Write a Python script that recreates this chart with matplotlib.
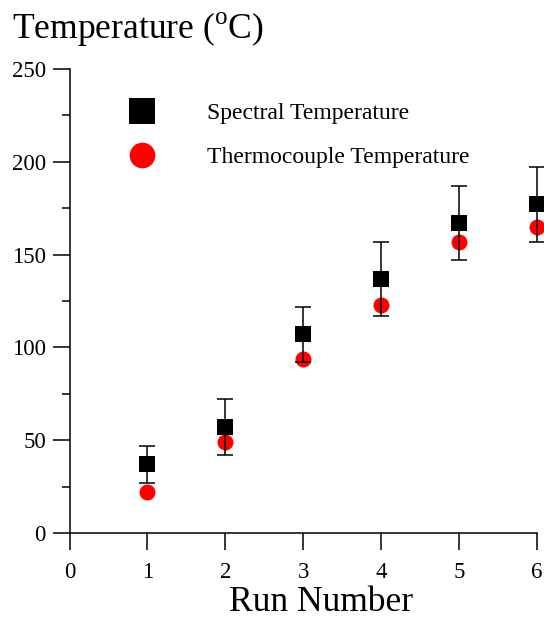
import matplotlib
matplotlib.use("Agg")
import matplotlib.pyplot as plt
from matplotlib.ticker import MultipleLocator
from matplotlib.lines import Line2D

plt.rcParams['font.family'] = ['Liberation Serif', 'DejaVu Serif']
plt.rcParams['mathtext.fontset'] = 'custom'
plt.rcParams['mathtext.rm'] = 'Liberation Serif'

runs = [1, 2, 3, 4, 5, 6]
spectral = [37, 57, 107, 137, 167, 177]
spectral_err = [10, 15, 15, 20, 20, 20]
thermo = [22, 49, 94, 123, 157, 165]
labels = ["Spectral Temperature", "Thermocouple Temperature"]

fig = plt.figure(figsize=(5.44, 6.21), dpi=100)
ax = fig.add_axes([69.5/544, 1-533/621, (536.7-69.5)/544, (533-69)/621])

ax.plot(runs, thermo, 'o', color='#ff0000', markersize=11.5, markeredgewidth=0, zorder=2, clip_on=False)
ax.errorbar(runs, spectral, yerr=spectral_err, fmt='none', ecolor='black', elinewidth=1.1,
            capsize=5.8, capthick=1.1, zorder=3, clip_on=False)
ax.plot(runs, spectral, 's', color='black', markersize=11.5, markeredgewidth=0, zorder=4, clip_on=False)

ax.set_xlim(0, 6)
ax.set_ylim(0, 250)
ax.xaxis.set_major_locator(MultipleLocator(1))
ax.yaxis.set_major_locator(MultipleLocator(50))
ax.yaxis.set_minor_locator(MultipleLocator(25))
for s in ['top', 'right']:
    ax.spines[s].set_visible(False)
for s in ['left', 'bottom']:
    ax.spines[s].set_linewidth(1.1)
ax.tick_params(axis='both', which='major', direction='out', length=12, width=1.1, labelsize=16.5)
ax.tick_params(axis='y', which='minor', direction='out', length=6, width=1.1)
ax.tick_params(axis='y', which='major', pad=5)
ax.tick_params(axis='x', which='major', pad=9)

handles = [Line2D([], [], marker='s', color='black', linestyle='none', markersize=18.5, markeredgewidth=0),
           Line2D([], [], marker='o', color='#ff0000', linestyle='none', markersize=18.5, markeredgewidth=0)]
ax.legend(handles, labels, loc='upper left', bbox_to_anchor=(0.1047, 0.928), frameon=False,
          fontsize=17, handlelength=2.0, handletextpad=1.75, labelspacing=0.96,
          borderpad=0, borderaxespad=0)

fig.text(12/544, 1-38/621, r"Temperature ($^{\mathrm{o}}$C)", fontsize=25.6, ha='left', va='baseline')
fig.text(321/544, 1-611/621, "Run Number", fontsize=25.6, ha='center', va='baseline')

fig.savefig("out.png", dpi=100)
